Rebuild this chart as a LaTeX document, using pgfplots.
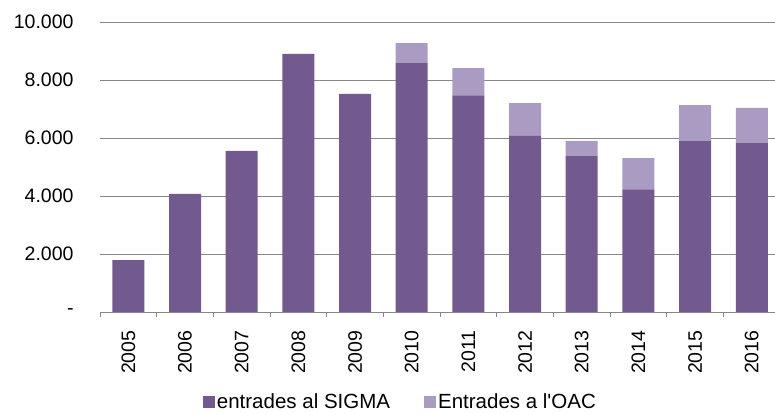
\documentclass[border=0pt]{standalone}
\usepackage{fontspec}
\setmainfont{Liberation Sans}
\usepackage{pgfplots}
\pgfplotsset{compat=1.18}
\definecolor{sigma}{HTML}{725A8F}
\definecolor{oac}{HTML}{A99BC1}
\definecolor{gridgray}{HTML}{878787}

\begin{document}
\begin{tikzpicture}
  \useasboundingbox (-100pt,-102pt) rectangle (675pt,312pt);
  \begin{axis}[
    at={(0pt,0pt)}, anchor=south west,
    scale only axis,
    width=675pt, height=290pt,
    ybar stacked,
    bar width=32pt,
    xmin=-0.5, xmax=11.41,
    ymin=0, ymax=10000,
    scaled y ticks=false,
    axis lines*=left,
    y axis line style={draw=none},
    x axis line style={gridgray, line width=0.8pt},
    xtick={0,...,11},
    xticklabels={2005,2006,2007,2008,2009,2010,2011,2012,2013,2014,2015,2016},
    minor xtick={-0.5,0.5,...,11.5},
    major x tick style={draw=none},
    minor x tick style={gridgray, line width=0.8pt},
    minor tick length=5pt,
    tick align=outside,
    ytick={0,2000,4000,6000,8000,10000},
    yticklabels={-,2.000,4.000,6.000,8.000,10.000},
    major y tick style={draw=none},
    ymajorgrids,
    grid style={gridgray, line width=0.8pt},
    tick label style={font=\fontsize{19.5}{22}\selectfont, inner sep=0pt},
    xticklabel style={rotate=90, anchor=east},
    xticklabel shift=14pt,
    yticklabel shift=22pt,
    legend columns=2,
    legend style={
      draw=none, fill=none,
      at={(axis description cs:0.445,-0.31)}, anchor=center,
      font=\fontsize{20.5}{23}\selectfont,
      nodes={inner sep=2pt},
      /tikz/every even column/.append style={column sep=32pt},
    },
    legend image code/.code={\fill[#1] (0pt,-6pt) rectangle (12pt,6pt);},
  ]
    \addplot[fill=sigma, draw=none] coordinates {
      (0,1790) (1,4070) (2,5560) (3,8900) (4,7520) (5,8600)
      (6,7470) (7,6070) (8,5390) (9,4230) (10,5890) (11,5840)
    };
    \addplot[fill=oac, draw=none] coordinates {
      (0,0) (1,0) (2,0) (3,0) (4,0) (5,670)
      (6,940) (7,1130) (8,510) (9,1080) (10,1240) (11,1200)
    };
    \legend{entrades al SIGMA, Entrades a l\textquotesingle OAC}
  \end{axis}
\end{tikzpicture}
\end{document}
